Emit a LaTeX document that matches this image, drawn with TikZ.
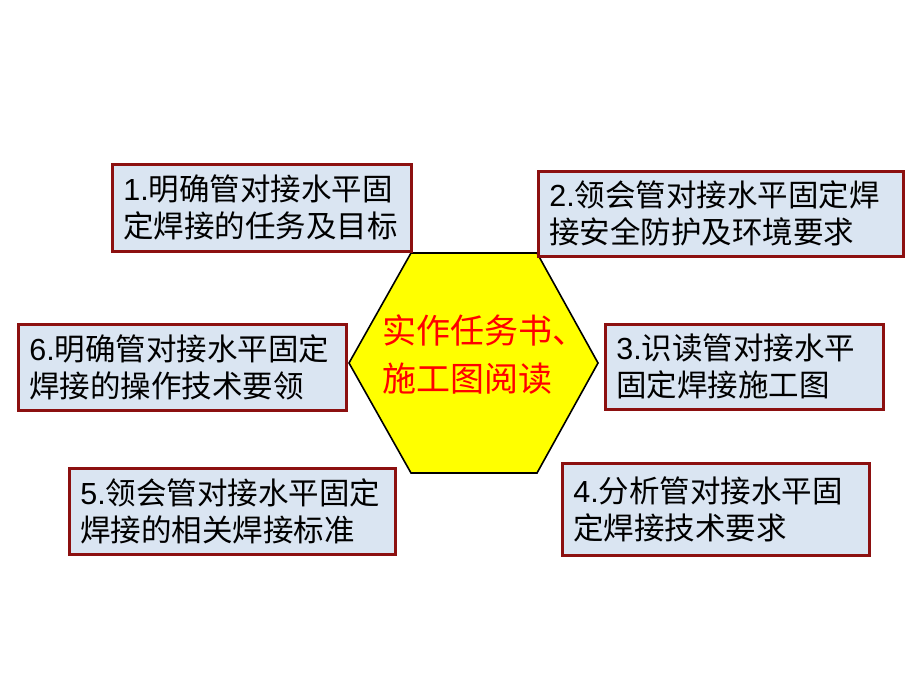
\documentclass[tikz,border=0pt]{standalone}
\usepackage{fontspec}
\setmainfont{Liberation Sans}
\newfontfamily\cjk{Noto Sans CJK SC}
\usetikzlibrary{positioning}
\definecolor{boxred}{RGB}{140,16,16}
\definecolor{boxfill}{RGB}{218,229,242}
\definecolor{hexyellow}{RGB}{255,255,0}
\definecolor{titlered}{RGB}{255,0,0}
\newcommand{\num}[1]{{\rmfamily #1}}

\begin{document}
\begin{tikzpicture}[x=1pt, y=1pt,
    taskbox/.style={draw=boxred, line width=2.6pt, fill=boxfill, anchor=north west,
        inner xsep=11pt, inner ysep=0pt, align=left,
        font=\cjk\fontsize{30.5}{37}\selectfont}]
    \useasboundingbox (0,0) rectangle (920,690);

    % Centre hexagon
    \draw[line width=1.6pt, fill=hexyellow, line join=miter]
        (349,327) -- (411,437) -- (537,437) -- (598,327) -- (537,217) -- (411,217) -- cycle;
    \node[titlered, align=left, font=\cjk\fontsize{34}{48}\selectfont] (title) at (484,335)
        {实作任务书、\\施工图阅读};

    % Task boxes
    \node[taskbox, text width=277pt, minimum height=87pt] (task1) at (111,527)
        {\num{1.}明确管对接水平固\\定焊接的任务及目标};
    \node[taskbox, text width=343pt, minimum height=85pt] (task2) at (537,520)
        {\num{2.}领会管对接水平固定焊\\接安全防护及环境要求};
    \node[taskbox, text width=256pt, minimum height=85pt] (task3) at (604,367)
        {\num{3.}识读管对接水平\\固定焊接施工图};
    \node[taskbox, text width=285pt, minimum height=92pt] (task4) at (561,228)
        {\num{4.}分析管对接水平固\\定焊接技术要求};
    \node[taskbox, text width=304pt, minimum height=86pt] (task5) at (68,223)
        {\num{5.}领会管对接水平固定\\焊接的相关焊接标准};
    \node[taskbox, text width=306pt, minimum height=86pt] (task6) at (17,367)
        {\num{6.}明确管对接水平固定\\焊接的操作技术要领};
\end{tikzpicture}
\end{document}
